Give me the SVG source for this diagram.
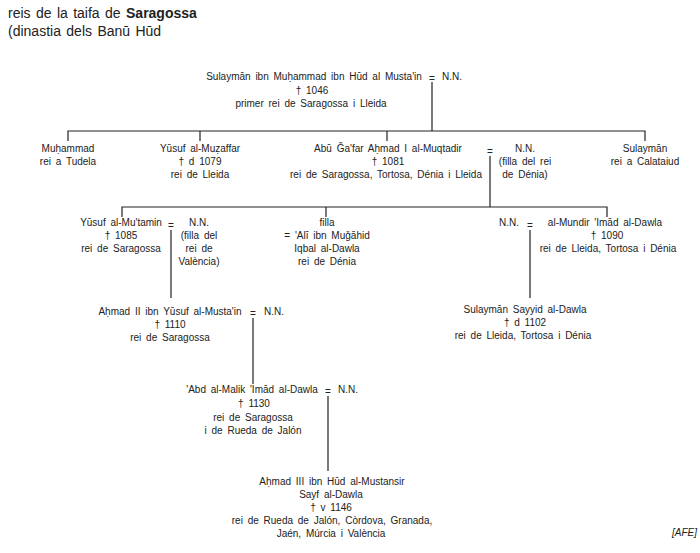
<svg xmlns="http://www.w3.org/2000/svg" width="700" height="553" viewBox="0 0 700 553">
<style>
.t{font-family:"Liberation Sans",Arial,sans-serif;font-size:10px;fill:#222;word-spacing:2px}
.m{text-anchor:middle}
.h{font-family:"Liberation Sans",Arial,sans-serif;font-size:14px;fill:#222;word-spacing:1.5px}
.ln{stroke:#222;stroke-width:1.2;fill:none}
</style>
<rect width="700" height="553" fill="#fff"/>
<g id="title">
<text class="h" x="8" y="18">reis de la taifa de <tspan font-weight="bold">Saragossa</tspan></text>
<text class="h" x="8" y="36">(dinastia dels Banū Hūd</text>
</g>
<g id="connectors" class="ln">
<path d="M432 82V131M68 141V131H645V141M200 131V141M387 131V141"/>
<path d="M490 156V207M122 217V207H607V217M326 207V217"/>
<path d="M171 230V298M530 230V298"/>
<path d="M253 318V384M328 396V471"/>
</g>
<g id="n-sulayman-1">
<text class="t m" x="314" y="80">Sulaymān ibn Muḥammad ibn Hūd al Musta'in</text>
<text class="t m" x="312" y="93.5">† 1046</text>
<text class="t m" x="311" y="107">primer rei de Saragossa i Lleida</text>
<text class="t m" x="432" y="82">=</text>
<text class="t" x="442" y="80">N.N.</text>
</g>
<g id="n-muhammad">
<text class="t m" x="68" y="152">Muḥammad</text>
<text class="t m" x="68" y="165">rei a Tudela</text>
</g>
<g id="n-yusuf-muzaffar">
<text class="t m" x="200" y="152">Yūsuf al-Muẓaffar</text>
<text class="t m" x="200" y="165">† d 1079</text>
<text class="t m" x="200" y="178">rei de Lleida</text>
</g>
<g id="n-muqtadir">
<text class="t m" x="388" y="152">Abū Ǧa'far Aḥmad I al-Muqtadir</text>
<text class="t m" x="388" y="165">† 1081</text>
<text class="t m" x="386" y="178">rei de Saragossa, Tortosa, Dénia i Lleida</text>
<text class="t m" x="490" y="155">=</text>
</g>
<g id="n-nn-denia">
<text class="t m" x="525" y="152">N.N.</text>
<text class="t m" x="525" y="165">(filla del rei</text>
<text class="t m" x="525" y="178">de Dénia)</text>
</g>
<g id="n-sulayman-calataiud">
<text class="t m" x="645" y="152">Sulaymān</text>
<text class="t m" x="645" y="165">rei a Calataiud</text>
</g>
<g id="n-mutamin">
<text class="t m" x="121" y="226">Yūsuf al-Mu'tamin</text>
<text class="t m" x="121" y="239">† 1085</text>
<text class="t m" x="121" y="252">rei de Saragossa</text>
<text class="t m" x="171" y="229">=</text>
</g>
<g id="n-nn-valencia">
<text class="t m" x="199" y="226">N.N.</text>
<text class="t m" x="199" y="239">(filla del</text>
<text class="t m" x="199" y="252">rei de</text>
<text class="t m" x="199" y="265">València)</text>
</g>
<g id="n-filla">
<text class="t m" x="327" y="226">filla</text>
<text class="t m" x="327" y="239">= 'Alī ibn Muǧāhid</text>
<text class="t m" x="327" y="252">Iqbal al-Dawla</text>
<text class="t m" x="327" y="265">rei de Dénia</text>
</g>
<g id="n-mundir">
<text class="t m" x="509" y="226">N.N.</text>
<text class="t m" x="530" y="229">=</text>
<text class="t m" x="605" y="226">al-Mundir 'Imād al-Dawla</text>
<text class="t m" x="607" y="239">† 1090</text>
<text class="t m" x="608" y="252">rei de Lleida, Tortosa i Dénia</text>
</g>
<g id="n-ahmad-2">
<text class="t m" x="170" y="315">Aḥmad II ibn Yūsuf al-Musta'in</text>
<text class="t m" x="170" y="328">† 1110</text>
<text class="t m" x="170" y="341">rei de Saragossa</text>
<text class="t m" x="253" y="317">=</text>
<text class="t" x="264" y="315">N.N.</text>
</g>
<g id="n-sulayman-sayyid">
<text class="t m" x="525" y="313">Sulaymān Sayyid al-Dawla</text>
<text class="t m" x="525" y="326">† d 1102</text>
<text class="t m" x="523" y="339">rei de Lleida, Tortosa i Dénia</text>
</g>
<g id="n-abd-al-malik">
<text class="t m" x="252" y="393">'Abd al-Malik 'Imād al-Dawla</text>
<text class="t m" x="254" y="407">† 1130</text>
<text class="t m" x="253" y="421">rei de Saragossa</text>
<text class="t m" x="253" y="434">i de Rueda de Jalón</text>
<text class="t m" x="328" y="395">=</text>
<text class="t" x="338" y="393">N.N.</text>
</g>
<g id="n-ahmad-3">
<text class="t m" x="332" y="485">Aḥmad III ibn Hūd al-Mustansir</text>
<text class="t m" x="331" y="498">Sayf al-Dawla</text>
<text class="t m" x="331" y="511">† v 1146</text>
<text class="t m" x="332" y="524">rei de Rueda de Jalón, Còrdova, Granada,</text>
<text class="t m" x="331" y="537">Jaén, Múrcia i València</text>
</g>
<g id="credit">
<text class="t" x="697" y="536" font-style="italic" text-anchor="end">[AFE]</text>
</g>
</svg>
